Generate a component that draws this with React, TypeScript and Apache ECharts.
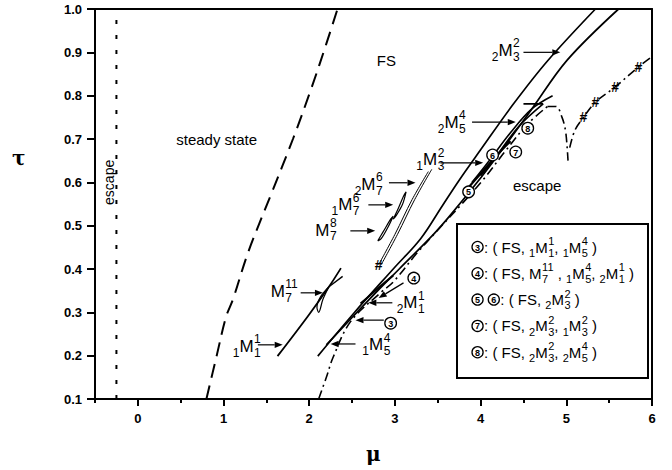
import React, { useEffect, useRef } from 'react';
import * as echarts from 'echarts';

// ---------- axis ticks ----------
const X_MAJOR = [0, 1, 2, 3, 4, 5, 6];
const X_MINOR = [-0.5, 0.5, 1.5, 2.5, 3.5, 4.5, 5.5];
const Y_TICKS = [0.1, 0.2, 0.3, 0.4, 0.5, 0.6, 0.7, 0.8, 0.9, 1.0];

// ---------- curves (mu, tau) ----------
const ESCAPE_LINE = [[-0.25, 0.1], [-0.25, 1.0]];
const DASH_LEFT = [[0.8, 0.1], [0.92, 0.2], [1.03, 0.29], [1.11, 0.33], [1.29, 0.44], [1.55, 0.57], [1.81, 0.7], [2.03, 0.82], [2.2, 0.92], [2.33, 1.0]];
const DASH_RIGHT = [[2.11, 0.1], [2.2, 0.15], [2.28, 0.197], [2.48, 0.278], [2.83, 0.345], [2.98, 0.37], [3.25, 0.435], [3.5, 0.49], [3.78, 0.55], [4.03, 0.606], [4.3, 0.675], [4.55, 0.735], [4.78, 0.775]];
const DASH_ARC = [[4.78, 0.775], [4.88, 0.775], [4.95, 0.75], [4.99, 0.72], [5.01, 0.68], [5.02, 0.65]];
const DASH_RISE = [[5.04, 0.68], [5.1, 0.72], [5.2, 0.75], [5.34, 0.785], [5.57, 0.82], [5.84, 0.866], [6.0, 0.89]];
const M11_MAIN = [[1.63, 0.199], [1.98, 0.29], [2.23, 0.359], [2.37, 0.402]];
const M11_LOOP = [[2.23, 0.359], [2.13, 0.335], [2.09, 0.312], [2.11, 0.3], [2.16, 0.33], [2.23, 0.359]];
const M11_BRANCH = [[2.23, 0.359], [2.39, 0.383]];
const LINE_A = [[2.1, 0.199], [2.52, 0.298], [2.98, 0.4], [3.3, 0.47], [3.55, 0.545], [3.75, 0.605], [4.0, 0.675], [4.38, 0.78], [4.78, 0.88], [5.34, 1.0]];
const LINE_B = [[2.2, 0.225], [2.5, 0.288], [2.8, 0.35], [3.05, 0.4], [3.45, 0.48], [3.65, 0.525], [4.0, 0.61], [4.25, 0.675], [4.6, 0.77], [5.01, 0.882], [5.61, 1.0]];
const LOW_3 = [[2.6, 0.32], [2.8, 0.355], [2.98, 0.385]];
const THIN_A = [[2.81, 0.41], [3.0, 0.48], [3.2, 0.56], [3.39, 0.625]];
const THIN_B = [[2.84, 0.41], [3.03, 0.48], [3.23, 0.56], [3.43, 0.63]];
const LEAF_8 = [[2.8, 0.465], [2.86, 0.485], [2.95, 0.515], [2.98, 0.522], [2.92, 0.497], [2.84, 0.47], [2.8, 0.465]];
const LEAF_6 = [[2.98, 0.515], [3.04, 0.54], [3.1, 0.568], [3.13, 0.578], [3.09, 0.55], [3.02, 0.525], [2.98, 0.515]];
const INNER_1 = [[3.9, 0.6], [4.1, 0.65], [4.35, 0.715], [4.6, 0.77], [4.84, 0.8]];
const INNER_2 = [[4.0, 0.615], [4.2, 0.665], [4.45, 0.73], [4.73, 0.781]];
const INNER_BAR = [[4.5, 0.781], [4.73, 0.781]];
const INNER_3 = [[3.8, 0.575], [4.0, 0.62], [4.2, 0.665], [4.35, 0.695]];

// ---------- markers ----------
const HASH_POINTS = [[2.81, 0.41], [5.2, 0.75], [5.34, 0.785], [5.57, 0.82], [5.84, 0.866]];
const CIRCLE_POINTS = [[2.95, 0.275, 3], [3.22, 0.379, 4], [3.86, 0.578, 5], [4.14, 0.663, 6], [4.41, 0.67, 7], [4.55, 0.725, 8]];

// ---------- texts ----------
const TEXT_LABELS = ['steady state', 'FS', 'escape'];
const TEXT_POS = [[0.92, 0.698], [2.9, 0.882], [4.66, 0.592]];
const ESCAPE_LEFT_POS = [[-0.34, 0.6]];

type Tok = string | { pre?: string; b: string; sup?: string; sub?: string } | { circ: string };

const M_LABELS: Tok[][] = [
  [{ pre: '1', b: 'M', sup: '1', sub: '1' }],
  [{ b: 'M', sup: '11', sub: '7' }],
  [{ pre: '1', b: 'M', sup: '4', sub: '5' }],
  [{ pre: '2', b: 'M', sup: '1', sub: '1' }],
  [{ b: 'M', sup: '8', sub: '7' }],
  [{ pre: '1', b: 'M', sup: '6', sub: '7' }],
  [{ pre: '2', b: 'M', sup: '6', sub: '7' }],
  [{ pre: '1', b: 'M', sup: '2', sub: '3' }],
  [{ pre: '2', b: 'M', sup: '4', sub: '5' }],
  [{ pre: '2', b: 'M', sup: '2', sub: '3' }],
];
const M_LABEL_POS = [[1.107, 0.222], [1.55, 0.349], [2.62, 0.225], [3.02, 0.322], [2.07, 0.49], [2.26, 0.548], [2.53, 0.596], [3.25, 0.652], [3.5, 0.739], [4.13, 0.905]];

const ARROWS = [
  [1.4, 0.225, 1.69, 0.225],
  [1.9, 0.345, 2.16, 0.345],
  [2.54, 0.227, 2.25, 0.227],
  [2.97, 0.322, 2.69, 0.322],
  [2.87, 0.282, 2.54, 0.282],
  [3.1, 0.368, 2.81, 0.333],
  [2.48, 0.488, 2.77, 0.488],
  [2.69, 0.548, 2.98, 0.548],
  [2.93, 0.599, 3.24, 0.599],
  [3.53, 0.645, 4.03, 0.645],
  [3.9, 0.739, 4.41, 0.739],
  [4.5, 0.9, 4.93, 0.9],
];

const LEGEND_ROWS: Tok[][] = [
  [{ circ: '3' }, ': ( FS, ', { pre: '1', b: 'M', sup: '1', sub: '1' }, ', ', { pre: '1', b: 'M', sup: '4', sub: '5' }, ' )'],
  [{ circ: '4' }, ': ( FS, ', { b: 'M', sup: '11', sub: '7' }, ' , ', { pre: '1', b: 'M', sup: '4', sub: '5' }, ', ', { pre: '2', b: 'M', sup: '1', sub: '1' }, ' )'],
  [{ circ: '5' }, ' ', { circ: '6' }, ': ( FS, ', { pre: '2', b: 'M', sup: '2', sub: '3' }, ' )'],
  [{ circ: '7' }, ': ( FS, ', { pre: '2', b: 'M', sup: '2', sub: '3' }, ', ', { pre: '1', b: 'M', sup: '2', sub: '3' }, ' )'],
  [{ circ: '8' }, ': ( FS, ', { pre: '2', b: 'M', sup: '2', sub: '3' }, ', ', { pre: '2', b: 'M', sup: '4', sub: '5' }, ' )'],
];

const FONT = '"Liberation Sans", Arial, Helvetica, sans-serif';
let mctx: CanvasRenderingContext2D | null = null;
function tw(text: string, size: number, weight = 'normal') {
  if (!mctx) mctx = document.createElement('canvas').getContext('2d');
  if (!mctx) return text.length * size * 0.55;
  mctx.font = `${weight} ${size}px ${FONT}`;
  return mctx.measureText(text).width;
}

function circleGlyph(x: number, digit: string, r: number): any[] {
  return [
    { type: 'circle', shape: { cx: x + r, cy: 0, r }, style: { fill: '#fff', stroke: '#000', lineWidth: 1.3 } },
    {
      type: 'text', x: x + r, y: 0.5,
      style: { text: digit, font: `bold ${Math.round(r * 1.6)}px ${FONT}`, fill: '#000', textAlign: 'center', textVerticalAlign: 'middle' },
    },
  ];
}

function layout(toks: Tok[], F: number, S: number): any[] {
  const out: any[] = [];
  let x = 0;
  const txt = (t: string, size: number, dx: number, dy: number) =>
    out.push({
      type: 'text', x: dx, y: dy,
      style: { text: t, font: `${size}px ${FONT}`, fill: '#000', textAlign: 'left', textVerticalAlign: 'middle' },
    });
  for (const tk of toks) {
    if (typeof tk === 'string') {
      txt(tk, F, x, 0);
      x += tw(tk, F);
    } else if ('circ' in tk) {
      const r = F * 0.37;
      out.push(...circleGlyph(x, tk.circ, r));
      x += 2 * r + 1;
    } else {
      if (tk.pre) {
        txt(tk.pre, S, x, F * 0.38);
        x += tw(tk.pre, S);
      }
      txt(tk.b, F, x, 0);
      x += tw(tk.b, F) + 0.5;
      let w = 0;
      if (tk.sup) { txt(tk.sup, S, x, -F * 0.4); w = Math.max(w, tw(tk.sup, S)); }
      if (tk.sub) { txt(tk.sub, S, x, F * 0.38); w = Math.max(w, tw(tk.sub, S)); }
      x += w;
    }
  }
  return out;
}

const lineSeries = (data: number[][], type: any, width: number, smooth: number | boolean = 0.35) => ({
  type: 'line',
  data,
  showSymbol: false,
  symbol: 'none',
  smooth,
  clip: true,
  silent: true,
  lineStyle: { color: '#000', width, type },
  z: 2,
});

const DOT: any = [4, 11];
const LONGDASH: any = [14, 8];
const DASHDOT: any = [9, 4, 2, 4];

function buildOption(): any {
  const legendChildren: any[] = [
    { type: 'rect', shape: { x: 457, y: 224, width: 191, height: 154 }, style: { fill: '#fff', stroke: '#000', lineWidth: 2 } },
  ];
  LEGEND_ROWS.forEach((row, i) => {
    legendChildren.push({ type: 'group', x: 472, y: 247 + i * 26.3, children: layout(row, 15, 11) });
  });

  return {
    animation: false,
    backgroundColor: '#fff',
    grid: { left: 95, right: 20, top: 9, bottom: 71, containLabel: false, outerBoundsMode: 'none' },
    xAxis: [
      {
        type: 'value', min: -0.5, max: 6, position: 'bottom',
        axisLine: { show: true, onZero: false, lineStyle: { color: '#000', width: 2 } },
        axisTick: { show: true, customValues: X_MAJOR, length: 7, lineStyle: { color: '#000', width: 2 } },
        axisLabel: { show: true, customValues: X_MAJOR, margin: 13, color: '#000', fontFamily: FONT, fontWeight: 'bold', fontSize: 13 },
        splitLine: { show: false },
      },
      {
        type: 'value', min: -0.5, max: 6, position: 'bottom',
        axisLine: { show: false },
        axisTick: { show: true, customValues: X_MINOR, length: 4, lineStyle: { color: '#000', width: 2 } },
        axisLabel: { show: false },
        splitLine: { show: false },
      },
      {
        type: 'value', min: -0.5, max: 6, position: 'top',
        axisLine: { show: true, onZero: false, lineStyle: { color: '#000', width: 2 } },
        axisTick: { show: false }, axisLabel: { show: false }, splitLine: { show: false },
      },
    ],
    yAxis: [
      {
        type: 'value', min: 0.1, max: 1.0,
        axisLine: { show: true, onZero: false, lineStyle: { color: '#000', width: 2 } },
        axisTick: { show: true, customValues: Y_TICKS, length: 8, lineStyle: { color: '#000', width: 2 } },
        axisLabel: {
          show: true, customValues: Y_TICKS, margin: 13, color: '#000', fontFamily: FONT, fontWeight: 'bold', fontSize: 13,
          formatter: (v: number) => v.toFixed(1),
        },
        splitLine: { show: false },
      },
      {
        type: 'value', min: 0.1, max: 1.0, position: 'right',
        axisLine: { show: true, onZero: false, lineStyle: { color: '#000', width: 2 } },
        axisTick: { show: false }, axisLabel: { show: false }, splitLine: { show: false },
      },
    ],
    series: [
      lineSeries(ESCAPE_LINE, DOT, 2, false),
      lineSeries(DASH_LEFT, LONGDASH, 2),
      lineSeries(DASH_RIGHT, DASHDOT, 1.6),
      lineSeries(DASH_ARC, DASHDOT, 1.6),
      lineSeries(DASH_RISE, DASHDOT, 1.6),
      lineSeries(M11_MAIN, 'solid', 1.8),
      lineSeries(M11_LOOP, 'solid', 1.2),
      lineSeries(M11_BRANCH, 'solid', 1.4),
      lineSeries(LINE_A, 'solid', 1.7),
      lineSeries(LINE_B, 'solid', 1.7),
      lineSeries(LOW_3, 'solid', 2.2),
      lineSeries(THIN_A, 'solid', 1),
      lineSeries(THIN_B, 'solid', 1),
      lineSeries(LEAF_8, 'solid', 1.2),
      lineSeries(LEAF_6, 'solid', 1.2),
      lineSeries(INNER_1, 'solid', 1.6),
      lineSeries(INNER_2, 'solid', 1.6),
      lineSeries(INNER_BAR, 'solid', 1.6, false),
      lineSeries(INNER_3, 'solid', 2.2),
      {
        type: 'custom', silent: true, z: 5,
        data: ARROWS,
        encode: { x: [0, 2], y: [1, 3] },
        renderItem: (_p: any, api: any) => {
          const a = api.coord([api.value(0), api.value(1)]);
          const b = api.coord([api.value(2), api.value(3)]);
          const dx = b[0] - a[0], dy = b[1] - a[1];
          const L = Math.hypot(dx, dy) || 1;
          const ux = dx / L, uy = dy / L;
          const hl = 8, hw = 3.2;
          const bx = b[0] - ux * hl, by = b[1] - uy * hl;
          return {
            type: 'group',
            children: [
              { type: 'line', shape: { x1: a[0], y1: a[1], x2: bx, y2: by }, style: { stroke: '#000', lineWidth: 1.2 } },
              { type: 'polygon', shape: { points: [[b[0], b[1]], [bx - uy * hw, by + ux * hw], [bx + uy * hw, by - ux * hw]] }, style: { fill: '#000' } },
            ],
          };
        },
      },
      {
        type: 'custom', silent: true, z: 6,
        data: M_LABEL_POS.map((p, i) => [p[0], p[1], i]),
        encode: { x: 0, y: 1 },
        renderItem: (_p: any, api: any) => {
          const p = api.coord([api.value(0), api.value(1)]);
          return { type: 'group', x: p[0], y: p[1], children: layout(M_LABELS[api.value(2)], 17, 12) };
        },
      },
      {
        type: 'custom', silent: true, z: 6,
        data: CIRCLE_POINTS,
        encode: { x: 0, y: 1 },
        renderItem: (_p: any, api: any) => {
          const p = api.coord([api.value(0), api.value(1)]);
          const r = 5.8;
          return { type: 'group', x: p[0] - r, y: p[1], children: circleGlyph(0, String(api.value(2)), r) };
        },
      },
      {
        type: 'custom', silent: true, z: 6,
        data: HASH_POINTS,
        encode: { x: 0, y: 1 },
        renderItem: (_p: any, api: any) => {
          const p = api.coord([api.value(0), api.value(1)]);
          return { type: 'text', x: p[0], y: p[1], style: { text: '#', font: `bold 14px ${FONT}`, fill: '#000', textAlign: 'center', textVerticalAlign: 'middle' } };
        },
      },
      {
        type: 'custom', silent: true, z: 6,
        data: TEXT_POS.map((p, i) => [p[0], p[1], i]),
        encode: { x: 0, y: 1 },
        renderItem: (_p: any, api: any) => {
          const p = api.coord([api.value(0), api.value(1)]);
          return { type: 'text', x: p[0], y: p[1], style: { text: TEXT_LABELS[api.value(2)], font: `15px ${FONT}`, fill: '#000', textAlign: 'center', textVerticalAlign: 'middle' } };
        },
      },
      {
        type: 'custom', silent: true, z: 6,
        data: ESCAPE_LEFT_POS,
        encode: { x: 0, y: 1 },
        renderItem: (_p: any, api: any) => {
          const p = api.coord([api.value(0), api.value(1)]);
          return { type: 'text', x: p[0], y: p[1], rotation: Math.PI / 2, style: { text: 'escape', font: `14px ${FONT}`, fill: '#000', textAlign: 'center', textVerticalAlign: 'middle' } };
        },
      },
    ],
    graphic: [
      { type: 'group', z: 100, children: legendChildren },
      { type: 'text', left: 12, top: 148, style: { text: 'τ', font: `bold 20px "DejaVu Serif", serif`, fill: '#000' } },
      { type: 'text', left: 366, top: 444, style: { text: 'μ', font: `bold 20px "DejaVu Serif", serif`, fill: '#000' } },
    ],
  };
}

export default function App() {
  const ref = useRef<HTMLDivElement>(null);
  useEffect(() => {
    document.body.style.margin = '0';
    const chart = echarts.init(ref.current!, null, { renderer: 'svg' });
    chart.setOption(buildOption());
    return () => chart.dispose();
  }, []);
  return <div ref={ref} style={{ width: 672, height: 470 }} />;
}
